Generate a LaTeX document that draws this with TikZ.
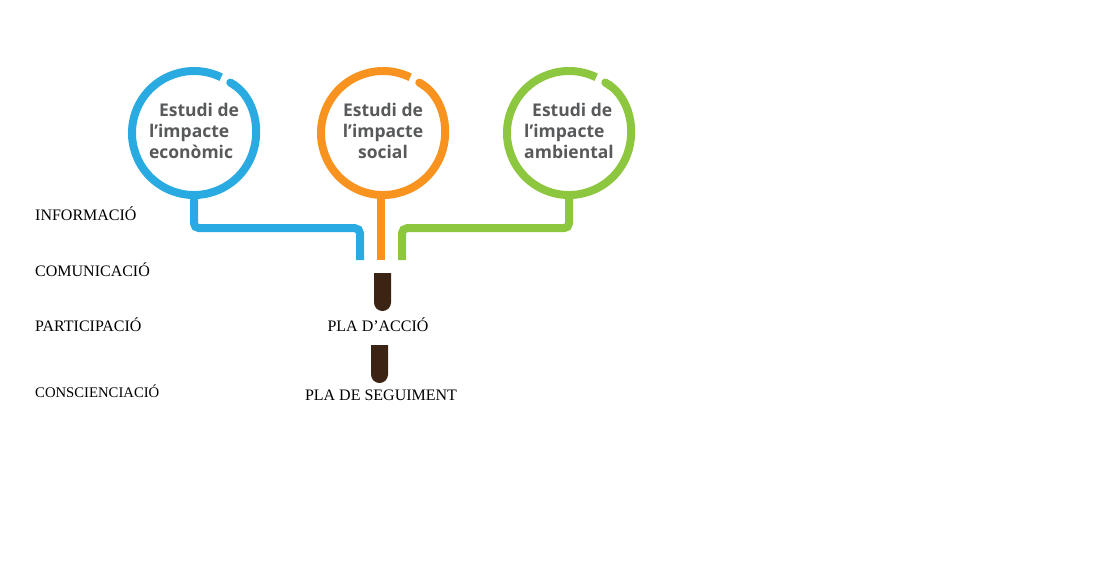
\documentclass[tikz,border=0pt]{standalone}
\usepackage{fontspec}
\setmainfont{Liberation Serif}
\newfontfamily\studyfont{Open Sans}
\usetikzlibrary{positioning, shapes.misc, arrows.meta}

\definecolor{econblue}{HTML}{29ABE2}
\definecolor{socorange}{HTML}{F7931E}
\definecolor{ambgreen}{HTML}{8DC63F}
\definecolor{pillbrown}{HTML}{3C2415}
\definecolor{textgray}{HTML}{58595B}

\begin{document}
\begin{tikzpicture}[x=1pt, y=-1pt]
    % Styles
    \tikzset{
        study/.style={circle, minimum size=124pt, inner sep=0pt},
        study_text/.style={inner sep=0pt, text=textgray, font=\studyfont\bfseries\fontsize{17.5}{21}\selectfont},
        ring/.style={line width=8pt, -{Round Cap[]}},
        link/.style={line width=8pt, rounded corners=5pt},
        pill/.style={rounded rectangle, rounded rectangle west arc=none, fill=pillbrown, minimum width=38pt, minimum height=17pt, inner sep=0pt, rotate=-90},
        stage_text/.style={font=\fontsize{16}{19}\selectfont, anchor=base west, inner sep=0pt},
        phase_text/.style={font=\fontsize{16}{19}\selectfont, anchor=base, inner sep=0pt}
    }
    \useasboundingbox (0,0) rectangle (1103,582);

    % --- Studies ---
    \node[study] (econ) at (194,133) {};
    \node[study] (soc) at (383,133) {};
    \node[study] (amb) at (569,133) {};

    \node[study_text, align=left, yshift=2.5pt] (econ_txt) at (econ.center) {\hspace*{10pt}Estudi de\\l’impacte\\econòmic};
    \node[study_text, align=center, yshift=2.5pt] (soc_txt) at (soc.center) {Estudi de\\l’impacte\\social};
    \node[study_text, align=left, yshift=2.5pt] (amb_txt) at (amb.center) {\hspace*{8pt}Estudi de\\l’impacte\\ambiental};

    % Rings (open at the top right)
    \draw[ring, econblue] (econ.center) ++(64:62pt) arc[start angle=64, end angle=418, radius=62pt];
    \draw[ring, socorange] (soc.center) ++(64:62pt) arc[start angle=64, end angle=418, radius=62pt];
    \draw[ring, ambgreen] (amb.center) ++(64:62pt) arc[start angle=64, end angle=418, radius=62pt];

    % --- Links ---
    \coordinate (end_econ) at (360,260);
    \coordinate (end_soc) at (381,260);
    \coordinate (end_amb) at (402,260);

    \draw[link, econblue] (econ.south) -- ++(0,33) -| (end_econ);
    \draw[link, socorange] (end_soc |- soc.south) -- (end_soc);
    \draw[link, ambgreen] (amb.south) -- ++(0,33) -| (end_amb);

    % --- Plans ---
    \node[pill] (pill_act) at (382.5,292) {};
    \node[phase_text] (act) at (378,331) {PLA D’ACCIÓ};
    \node[pill] (pill_seg) at (379.5,364) {};
    \node[phase_text] (seg) at (381,400) {PLA DE SEGUIMENT};

    % --- Stages ---
    \node[stage_text] (info) at (35,220) {INFORMACIÓ};
    \node[stage_text] (comu) at (35,276) {COMUNICACIÓ};
    \node[stage_text] (part) at (35,331) {PARTICIPACIÓ};
    \node[stage_text, font=\fontsize{14.7}{18}\selectfont] (cons) at (35,397.5) {CONSCIENCIACIÓ};

\end{tikzpicture}
\end{document}
